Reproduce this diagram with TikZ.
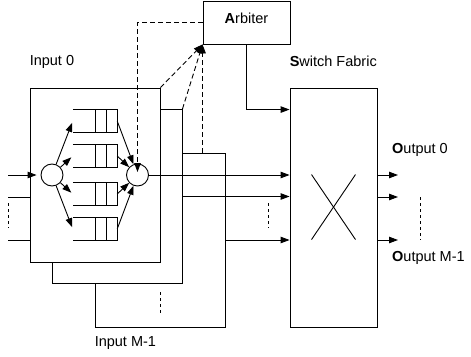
\documentclass[tikz,border=0pt]{standalone}
\usepackage{fontspec}
\setmainfont{Liberation Sans}
\usepackage{tikz}
\usetikzlibrary{arrows.meta, positioning, calc}

\begin{document}
\begin{tikzpicture}[x=1pt, y=-1pt,
    every node/.style={font=\fontsize{14.5}{17}\selectfont},
    unit/.style={draw, line width=0.9pt, fill=white, inner sep=0pt},
    conn/.style={line width=0.9pt, -{Triangle[length=9pt, width=6.5pt]}},
    dots/.style={line width=0.9pt, dash pattern=on 3pt off 3pt},
    req/.style={dash pattern=on 5pt off 3pt},
    lbl/.style={anchor=west, inner sep=0pt}]
    \useasboundingbox (0,0) rectangle (471,356);

    % --- Arbiter i Switch Fabric ---
    \node[unit, minimum width=87pt, minimum height=43pt, text depth=8pt] (arbiter) at (246.5,22.5) {\textbf{A}rbiter};
    \node[unit, minimum width=87pt, minimum height=239pt] (fabric) at (333.5,207.5) {};
    \draw[line width=0.9pt] ($(fabric.north)+(-22,87)$) -- ($(fabric.north)+(22,152)$);
    \draw[line width=0.9pt] ($(fabric.north)+(22,87)$) -- ($(fabric.north)+(-22,152)$);

    % --- Porty wejsciowe (od tylu) ---
    \node[unit, minimum width=130pt, minimum height=174pt] (in2) at (160,240) {};
    \node[unit, minimum width=130pt, minimum height=174pt] (in1) at (117,196.5) {};
    \node[unit, minimum width=130pt, minimum height=174pt] (in0) at (95,175) {};

    % Demultiplekser i multiplekser
    \node[circle, draw, line width=0.9pt, minimum size=22pt, inner sep=0pt] (split) at (52,175) {};
    \node[circle, draw, line width=0.9pt, minimum size=22pt, inner sep=0pt] (merge) at (137.5,175) {};

    % Kolejki
    \foreach \q/\y in {q1/121, q2/156, q3/194, q4/229}{
        \node[minimum width=44pt, minimum height=22pt, inner sep=0pt] (\q) at (95,\y) {};
        \draw[line width=0.9pt] (\q.north west) -- (\q.north east) -- (\q.south east) -- (\q.south west);
        \draw[line width=0.9pt] ($(\q.north east)+(-11,0)$) -- ($(\q.south east)+(-11,0)$);
        \draw[line width=0.9pt] ($(\q.north east)+(-22,0)$) -- ($(\q.south east)+(-22,0)$);
        \draw[conn, shorten >=2pt] (split) -- (\q.west);
        \draw[conn] (\q.east) -- (merge);
    }

    % Linie wejsciowe z lewej
    \coordinate (src0) at (8,175);
    \coordinate (src1) at (8,197);
    \coordinate (srcm) at (8,240);
    \draw[conn, shorten >=4pt] (src0) -- (split);
    \draw[line width=0.9pt] (src1) -- (src1 -| in0.west);
    \draw[line width=0.9pt] (srcm) -- (srcm -| in0.west);
    \draw[dots] (8,203) -- (8,228);

    % Linie do przelacznika
    \draw[conn] (merge) -- (merge -| fabric.west);
    \draw[conn] (in1.east) -- (in1.east -| fabric.west);
    \draw[conn] (in2.east) -- (in2.east -| fabric.west);
    \draw[dots] (268,203) -- (268,228);
    \draw[dots] (160,292) -- (160,315);

    % Wyjscia
    \coordinate (out0) at (398,175);
    \coordinate (out1) at (398,197);
    \coordinate (outm) at (398,240);
    \draw[conn] (out0 -| fabric.east) -- (out0);
    \draw[conn] (out1 -| fabric.east) -- (out1);
    \draw[conn] (outm -| fabric.east) -- (outm);
    \draw[dots] (420,197) -- (420,240);

    % Sygnaly arbitra
    \draw[conn, req, shorten >=3pt] (arbiter.west) -| (merge.center);
    \draw[conn, req] (in0.north east) -- (arbiter.south west);
    \draw[conn, req] (in1.north east) -- (arbiter.south west);
    \draw[conn, req] (arbiter.south west |- in2.north) -- (arbiter.south west);
    \draw[conn] (arbiter.south) |- ($(fabric.north west)+(0,22)$);

    % Etykiety
    \node[lbl] (lblin0) at ($(in0.north west)+(0,-26)$) {Input 0};
    \node[lbl] (lblinm) at ($(in2.south west)+(0,16)$) {Input M-1};
    \node[lbl] (lblfab) at ($(fabric.north west)+(0,-26)$) {\textbf{S}witch Fabric};
    \node[lbl] (lblout0) at (392,150) {\textbf{O}utput 0};
    \node[lbl] (lbloutm) at (392,258) {\textbf{O}utput M-1};
\end{tikzpicture}
\end{document}
